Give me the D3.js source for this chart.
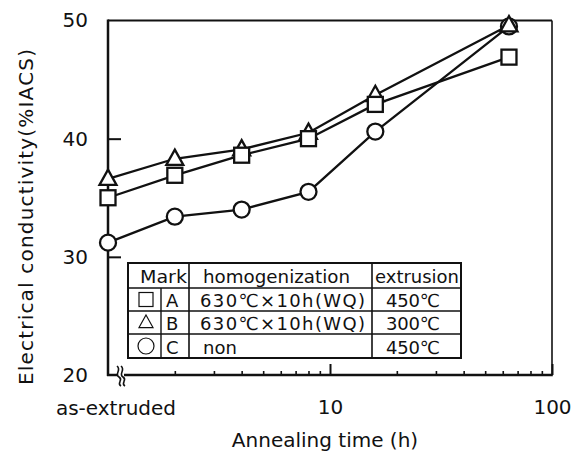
<!DOCTYPE html>
<html>
<head>
<meta charset="utf-8">
<script src="https://cdn.jsdelivr.net/npm/d3@7/dist/d3.min.js"></script>
<style>
  html, body { margin: 0; padding: 0; background: #fff; }
  svg { display: block; }
  text { font-family: "DejaVu Sans", sans-serif; fill: #111; }
</style>
</head>
<body>
<svg id="chart" width="575" height="457"></svg>
<script>
// Annealing times in hours; the as-extruded state sits on the left axis (t = 1).
const times = [1, 2, 4, 8, 16, 64];
const seriesA = [35.0, 36.9, 38.6, 40.0, 42.9, 46.9];   // square
const seriesB = [36.6, 38.3, 39.1, 40.5, 43.7, 49.6];   // triangle
const seriesC = [31.2, 33.4, 34.0, 35.5, 40.6, 49.5];   // circle

const yTicks = [20, 30, 40, 50];
const xMajorTicks = [10, 100];
const xMinorTicks = [2, 3, 4, 5, 6, 7, 8, 9, 20, 30, 40, 50, 60, 70, 80, 90];
const xStartLabel = "as-extruded";

const legendHeader = ["Mark", "homogenization", "extrusion"];
const legendLetters = ["A", "B", "C"];
const legendHomog = ["630\u2103\u00D710h(WQ)", "630\u2103\u00D710h(WQ)", "non"];
const legendExtrusion = ["450\u2103", "300\u2103", "450\u2103"];

const svg = d3.select("#chart");
const L = 108, R = 552, T = 20.5, B = 375;
const ink = "#111";

const x = d3.scaleLog().domain([1, 100]).range([L, R]);
const y = d3.scaleLinear().domain([20, 50]).range([B, T]);

// frame
svg.append("line").attr("x1", L).attr("x2", R).attr("y1", T).attr("y2", T)
  .attr("stroke", ink).attr("stroke-width", 2);
svg.append("line").attr("x1", R).attr("x2", R).attr("y1", T).attr("y2", B)
  .attr("stroke", ink).attr("stroke-width", 1.6);
svg.append("line").attr("x1", L).attr("x2", L).attr("y1", T - 1).attr("y2", B + 1)
  .attr("stroke", ink).attr("stroke-width", 2.5);
svg.append("line").attr("x1", L - 1).attr("x2", R + 0.8).attr("y1", B).attr("y2", B)
  .attr("stroke", ink).attr("stroke-width", 2.5);

// bottom axis ticks (inward)
const minorAxis = d3.axisBottom(x).tickValues(xMinorTicks).tickSize(-4).tickFormat("");
const gMinor = svg.append("g").attr("transform", `translate(0,${B})`).call(minorAxis);
gMinor.select(".domain").remove();
gMinor.selectAll(".tick line").attr("stroke", ink).attr("stroke-width", 1.6);

const majorAxis = d3.axisBottom(x).tickValues(xMajorTicks).tickSize(-11).tickPadding(25)
  .tickFormat(d3.format("d"));
const gMajor = svg.append("g").attr("transform", `translate(0,${B})`).call(majorAxis);
gMajor.select(".domain").remove();
gMajor.selectAll(".tick line").attr("stroke", ink).attr("stroke-width", 2);
gMajor.selectAll(".tick text").attr("font-size", 20).attr("fill", ink)
  .style("font-family", '"DejaVu Sans", sans-serif');

svg.append("text").attr("x", 116).attr("y", 415).attr("text-anchor", "middle")
  .attr("font-size", 20).text(xStartLabel);

// left axis ticks (inward) and labels
const leftAxis = d3.axisLeft(y).tickValues(yTicks).tickSize(-13).tickPadding(20)
  .tickFormat(d3.format("d"));
const gLeft = svg.append("g").attr("transform", `translate(${L},0)`).call(leftAxis);
gLeft.select(".domain").remove();
gLeft.selectAll(".tick line").attr("stroke", ink).attr("stroke-width", 2)
  .filter(d => d === 20 || d === 50).remove();
gLeft.selectAll(".tick text").attr("font-size", 20).attr("fill", ink)
  .style("font-family", '"DejaVu Sans", sans-serif');

// axis break on the bottom-left
const brk = svg.append("g").attr("transform", `translate(121,${B})`);
brk.append("rect").attr("x", -3).attr("y", -3).attr("width", 6).attr("height", 6).attr("fill", "#fff");
const wave = "M -2,-8 C 3,-4 -5,0 0,3 C 5,6 -3,9 2,12";
brk.append("path").attr("d", wave).attr("transform", "translate(-2,-1)")
  .attr("fill", "none").attr("stroke", ink).attr("stroke-width", 1.6);
brk.append("path").attr("d", wave).attr("transform", "translate(2,-1)")
  .attr("fill", "none").attr("stroke", ink).attr("stroke-width", 1.6);

// axis titles
svg.append("text").attr("x", 325).attr("y", 447).attr("text-anchor", "middle")
  .attr("font-size", 20).text("Annealing time (h)");
svg.append("text").attr("transform", "translate(33,217) rotate(-90)")
  .attr("text-anchor", "middle").attr("font-size", 20)
  .attr("textLength", 336).attr("lengthAdjust", "spacing")
  .text("Electrical conductivity(%IACS)");

// series lines
const line = d3.line().x(d => x(d[0])).y(d => y(d[1]));
const series = [
  { vals: seriesC, shape: "circle" },
  { vals: seriesB, shape: "triangle" },
  { vals: seriesA, shape: "square" }
];
series.forEach(s => {
  svg.append("path").datum(times.map((t, i) => [t, s.vals[i]]))
    .attr("d", line).attr("fill", "none").attr("stroke", ink).attr("stroke-width", 2.3);
});

function drawMarker(g, shape, cx, cy, size, sw) {
  if (shape === "square") {
    g.append("rect").attr("x", cx - size / 2).attr("y", cy - size / 2)
      .attr("width", size).attr("height", size)
      .attr("fill", "#fff").attr("stroke", ink).attr("stroke-width", sw);
  } else if (shape === "circle") {
    g.append("circle").attr("cx", cx).attr("cy", cy).attr("r", size / 2)
      .attr("fill", "#fff").attr("stroke", ink).attr("stroke-width", sw);
  } else {
    const h = size * 0.9;
    g.append("path")
      .attr("d", `M${cx},${cy - h * 0.6} L${cx + size / 2},${cy + h * 0.4} L${cx - size / 2},${cy + h * 0.4} Z`)
      .attr("fill", "#fff").attr("stroke", ink).attr("stroke-width", sw)
      .attr("stroke-linejoin", "miter");
  }
}

series.forEach(s => {
  const g = svg.append("g");
  times.forEach((t, i) => drawMarker(g, s.shape, x(t), y(s.vals[i]),
    s.shape === "circle" ? 16 : (s.shape === "square" ? 15 : 17), 2.3));
});

// legend table
const lg = svg.append("g");
const tx0 = 128, tx1 = 461, colMark = 161, col1 = 189, col2 = 372;
const rowY = [263, 288, 311, 334, 358];
lg.append("rect").attr("x", tx0).attr("y", rowY[0]).attr("width", tx1 - tx0)
  .attr("height", rowY[4] - rowY[0]).attr("fill", "#fff")
  .attr("stroke", ink).attr("stroke-width", 2);
rowY.slice(1, 4).forEach(ry => lg.append("line").attr("x1", tx0).attr("x2", tx1)
  .attr("y1", ry).attr("y2", ry).attr("stroke", ink).attr("stroke-width", 1.6));
[col1, col2].forEach(cx => lg.append("line").attr("x1", cx).attr("x2", cx)
  .attr("y1", rowY[0]).attr("y2", rowY[4]).attr("stroke", ink).attr("stroke-width", 1.6));
lg.append("line").attr("x1", colMark).attr("x2", colMark)
  .attr("y1", rowY[1]).attr("y2", rowY[4]).attr("stroke", ink).attr("stroke-width", 1.4);

const fs = 18;
lg.append("text").attr("x", 140).attr("y", 283).attr("font-size", fs)
  .attr("textLength", 47).attr("lengthAdjust", "spacingAndGlyphs").text(legendHeader[0]);
lg.append("text").attr("x", 203).attr("y", 283).attr("font-size", fs)
  .attr("textLength", 147).attr("lengthAdjust", "spacingAndGlyphs").text(legendHeader[1]);
lg.append("text").attr("x", 375).attr("y", 283).attr("font-size", fs)
  .attr("textLength", 84).attr("lengthAdjust", "spacingAndGlyphs").text(legendHeader[2]);

const legendShapes = ["square", "triangle", "circle"];
legendLetters.forEach((letter, i) => {
  const top = rowY[i + 1], bot = rowY[i + 2];
  const base = bot - 4;
  const mid = (top + bot) / 2;
  drawMarker(lg, legendShapes[i], 146, mid, legendShapes[i] === "circle" ? 16 : 14, 1.2);
  lg.append("text").attr("x", 166).attr("y", base).attr("font-size", fs).text(letter);
  const h = lg.append("text").attr("x", i === 2 ? 203 : 200).attr("y", base)
    .attr("font-size", fs).text(legendHomog[i]);
  if (i < 2) h.attr("textLength", 165).attr("lengthAdjust", "spacing");
  lg.append("text").attr("x", 386).attr("y", base).attr("font-size", fs)
    .attr("textLength", 54).attr("lengthAdjust", "spacing").text(legendExtrusion[i]);
});
</script>
</body>
</html>
